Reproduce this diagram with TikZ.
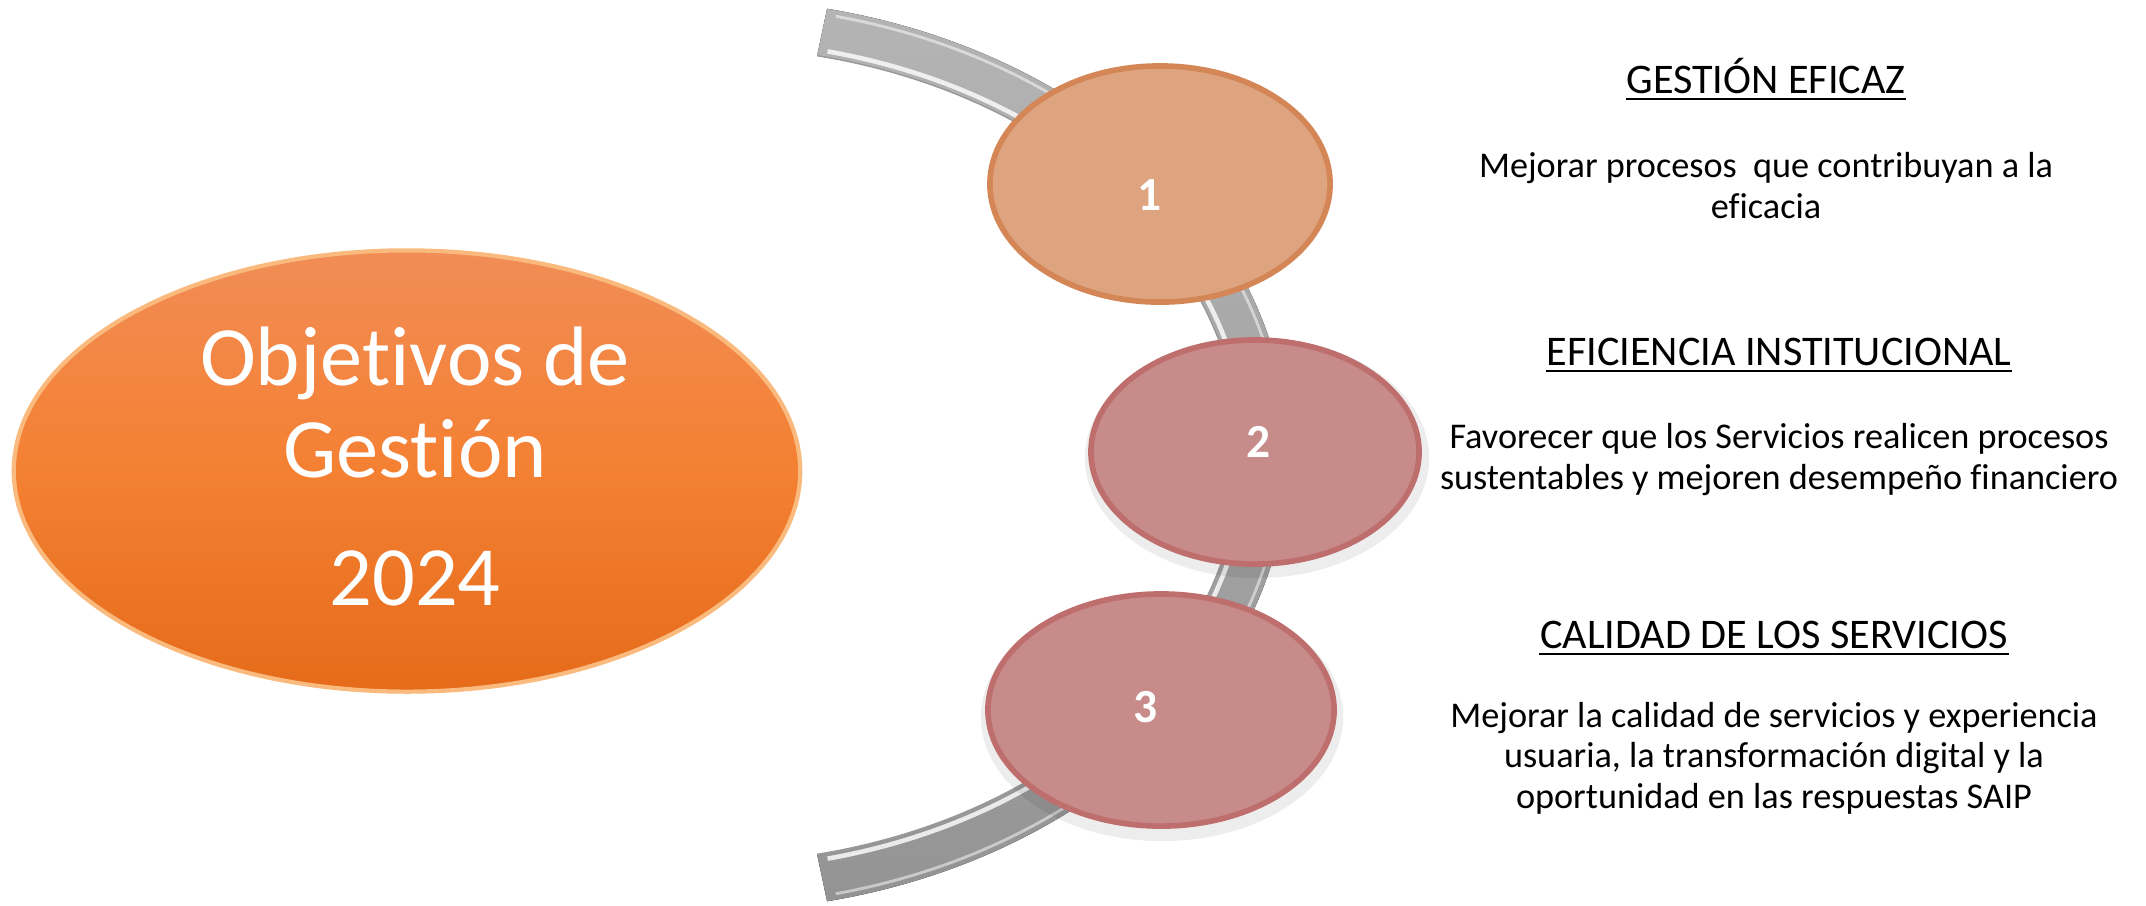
\documentclass[tikz,border=0pt]{standalone}
\usepackage{fontspec}
\setmainfont{Carlito}[Ligatures=NoCommon, RawFeature=-calt]
\usetikzlibrary{shapes.geometric}
\definecolor{bandTop}{RGB}{180,180,180}
\definecolor{bandBot}{RGB}{148,148,148}
\definecolor{orTop}{RGB}{241,141,86}
\definecolor{orMid}{RGB}{244,128,50}
\definecolor{orBot}{RGB}{229,107,26}
\definecolor{orRim}{RGB}{250,185,125}
\definecolor{peach}{RGB}{222,163,127}
\definecolor{peachEdge}{RGB}{213,134,86}
\definecolor{rose}{RGB}{199,139,138}
\definecolor{roseEdge}{RGB}{190,110,108}
\begin{document}
\begin{tikzpicture}[x=0.01cm,y=-0.01cm,
  bigell/.style={ellipse, inner sep=0pt, minimum width=7.86cm, minimum height=4.41cm,
    top color=orTop, bottom color=orBot, middle color=orMid, draw=orRim, line width=1.2pt},
  peachell/.style={ellipse, inner sep=0pt, fill=peach, draw=peachEdge, line width=1.6pt},
  roseell/.style={ellipse, inner sep=0pt, fill=rose, draw=roseEdge, line width=1.6pt},
  bigtxt/.style={font=\fontsize{24}{28}\selectfont, text=white, anchor=base, inner sep=0pt},
  numtxt/.style={font=\bfseries\fontsize{13.5}{16}\selectfont, text=white, anchor=base, inner sep=0pt},
  headtxt/.style={font=\fontsize{12}{14}\selectfont, anchor=base, inner sep=0pt},
  bodytxt/.style={font=\fontsize{10.3}{11.4}\selectfont, align=center, anchor=base, inner sep=0pt},
  uline/.style={line width=0.55pt}]
\useasboundingbox (0,0) rectangle (2146,905);

% curved band
\coordinate (ac) at (706,455);
\fill[top color=bandTop, bottom color=bandBot]
  ([shift={(78:5.82cm and 4.56cm)}]ac) arc[start angle=78, end angle=-78, x radius=5.82cm, y radius=4.56cm]
  -- ([shift={(-78:5.34cm and 4.08cm)}]ac) arc[start angle=-78, end angle=78, x radius=5.34cm, y radius=4.08cm]
  -- cycle;
\draw[white, opacity=0.8, line width=1.3pt]
  ([shift={(77:5.40cm and 4.14cm)}]ac) arc[start angle=77, end angle=-77, x radius=5.40cm, y radius=4.14cm];
\draw[gray!80, line width=0.4pt]
  ([shift={(78:5.34cm and 4.08cm)}]ac) arc[start angle=78, end angle=-78, x radius=5.34cm, y radius=4.08cm];
\draw[white, opacity=0.5, line width=0.8pt]
  ([shift={(77:5.76cm and 4.50cm)}]ac) arc[start angle=77, end angle=-77, x radius=5.76cm, y radius=4.50cm];

% big ellipse
\node[bigell] (obj) at (407,471) {};
\node[bigtxt] (t1) at (415,385) {Objetivos de};
\node[bigtxt] (t2) at (415,477) {Gestión};
\node[bigtxt] (t3) at (415,605) {2024};

% shadows
\fill[black, opacity=0.07] (1257,458) ellipse [x radius=1.72cm, y radius=1.20cm];
\fill[black, opacity=0.07] (1162,717) ellipse [x radius=1.81cm, y radius=1.24cm];

% small ellipses
\node[peachell, minimum width=3.40cm, minimum height=2.36cm] (e1) at (1160,184) {};
\node[roseell, minimum width=3.28cm, minimum height=2.24cm] (e2) at (1255,452) {};
\node[roseell, minimum width=3.46cm, minimum height=2.32cm] (e3) at (1161,710) {};
\node[numtxt] (n1) at (1150,210) {1};
\node[numtxt] (n2) at (1259,457) {2};
\node[numtxt] (n3) at (1146,722) {3};

% texts (multi-line nodes are placed by the baseline of their last line)
\node[headtxt] (h1) at (1766,93) {GESTIÓN EFICAZ};
\draw[uline] ([yshift=-1.8pt]h1.base west) -- ([yshift=-1.8pt]h1.base east);
\node[bodytxt] (b1) at (1766,218) {Mejorar procesos~ que contribuyan a la\\eficacia};

\node[headtxt] (h2) at (1779,365) {EFICIENCIA INSTITUCIONAL};
\draw[uline] ([yshift=-1.8pt]h2.base west) -- ([yshift=-1.8pt]h2.base east);
\node[bodytxt] (b2) at (1779,489) {Favorecer que los Servicios realicen procesos\\sustentables y mejoren desempeño financiero};

\node[headtxt] (h3) at (1774,648) {CALIDAD DE LOS SERVICIOS};
\draw[uline] ([yshift=-1.8pt]h3.base west) -- ([yshift=-1.8pt]h3.base east);
\node[bodytxt] (b3) at (1774,808) {Mejorar la calidad de servicios y experiencia\\usuaria, la transformación digital y la\\oportunidad en las respuestas SAIP};
\end{tikzpicture}
\end{document}
